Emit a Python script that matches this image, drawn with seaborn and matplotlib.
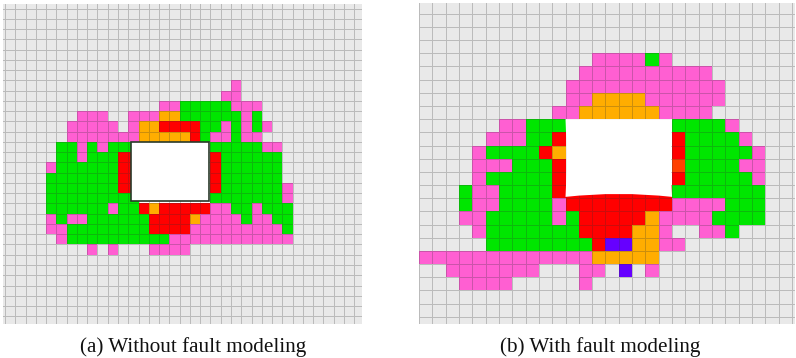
import numpy as np
import matplotlib
matplotlib.use("Agg")
import matplotlib.pyplot as plt
import seaborn as sns
from matplotlib.colors import ListedColormap
from matplotlib.patches import PathPatch, Rectangle
from matplotlib.path import Path

# cell states, one string per painted row
# . intact  p pink  g green  r red  o orange  d dark orange  u purple  w removed
states = ".pgrodu" + "w"
colors = ["#e9e9e9", "#ff5fd2", "#00e600", "#ff0000", "#ffad00", "#ff4000", "#6600ff", "#ffffff"]

left_rows = [
    "..................p",
    ".................pp",
    "...........ppgggggppp",
    "...ppp..pppooggggggpg",
    "..ppppp.poorrrrggpgpgp",
    "..pppppppooooorgppgpp",
    ".ggpgpgggwwwwwwwgggggpp",
    ".ggpgggrrwwwwwwwrgggggg",
    "pggggggrrwwwwwwwrgggggg",
    "gggggggrrwwwwwwwrgggggg",
    "gggggggrrwwwwwwwrggggggp",
    "gggggggggwwwwwwwgggggggp",
    "ggggggpggrorrrrrppggpggg",
    "pgppggggggrrrroppppgppgg",
    "ppggggggggrrrrpppppppppg",
    ".pggggggggggpppppppppppp",
    "....p.p...pppp",
]
left_first_row = 8
left_first_col = 5
left_shape = (32, 36)

right_rows = [
    ".............ppppgp",
    "............pppppppppp",
    "...........pppppppppppp",
    "...........ppoooopppppp",
    "..........ppoooooopppp",
    "......ppgggwwwwwwwwggggp",
    ".....pppggrwwwwwwwwrggggp",
    "....pggggrowwwwwwwwrgggggp",
    "....pppgggrwwwwwwwwdggggpp",
    "....pgggggrwwwwwwwwrgggggp",
    "...gppggggrrrrrrrrrggggggg",
    "...gppggggprrrrrrrrppppggg",
    "...ppgggggpgrrrrroppppgggg",
    "....pgggggggrrrroop..ppg",
    ".....ggggggggruuoopp",
    "pppppppppppppooooo",
    "..ppppppp...pp.u.p",
    "...pppp.....p",
]
right_first_row = 4
right_first_col = 0
right_shape = (25, 29)

captions = ["(a) Without fault modeling", "(b) With fault modeling"]


def to_matrix(rows, first_row, first_col, shape):
    m = np.zeros(shape, dtype=int)
    for i, row in enumerate(rows):
        for j, ch in enumerate(row):
            m[first_row + i, first_col + j] = states.index(ch)
    return m


def px_axes(fig, x0, y0, x1, y1):
    W, H = fig.get_size_inches() * fig.dpi
    return fig.add_axes([x0 / W, 1 - y1 / H, (x1 - x0) / W, (y1 - y0) / H])


sns.set_theme(style="white")
plt.rcParams["font.family"] = ["Liberation Serif", "DejaVu Serif"]

fig = plt.figure(figsize=(7.96, 3.58), dpi=100)
cmap = ListedColormap(colors)
line = (0.2, 0.2, 0.2, 0.25)

ax1 = px_axes(fig, 3, 4, 362, 324)
sns.heatmap(to_matrix(left_rows, left_first_row, left_first_col, left_shape), ax=ax1, cmap=cmap,
            vmin=-0.5, vmax=len(colors) - 0.5, cbar=False, linewidths=0.7, linecolor=line,
            xticklabels=False, yticklabels=False)
ax1.set_xlim(0.81, 35.75)
ax1.set_ylim(31.75, 0.56)
ax1.add_patch(Rectangle((13.25, 14), 7.65, 5.8, facecolor="white", edgecolor="#2a3a2a", linewidth=1.2, zorder=3))
ax1.axis("off")

ax2 = px_axes(fig, 419, 3, 795, 324)
sns.heatmap(to_matrix(right_rows, right_first_row, right_first_col, right_shape), ax=ax2, cmap=cmap,
            vmin=-0.5, vmax=len(colors) - 0.5, cbar=False, linewidths=0.7, linecolor=line,
            xticklabels=False, yticklabels=False)
ax2.set_xlim(0, 28.23)
ax2.set_ylim(24.55, 0.18)
hole = Path(
    [(11, 9), (19, 9), (18.85, 12), (19, 14.9), (15, 14.45), (11, 14.9), (11.15, 12), (11, 9)],
    [Path.MOVETO, Path.LINETO, Path.CURVE3, Path.CURVE3, Path.CURVE3, Path.CURVE3, Path.CURVE3, Path.CURVE3],
)
ax2.add_patch(PathPatch(hole, facecolor="white", edgecolor="none", zorder=3))
ax2.axis("off")

fig.text(193 / 796, 1 - 347 / 358, captions[0], ha="center", va="center", fontsize=15.2, color="#111111")
fig.text(600 / 796, 1 - 347 / 358, captions[1], ha="center", va="center", fontsize=15.2, color="#111111")

fig.savefig("out.png", dpi=100)
